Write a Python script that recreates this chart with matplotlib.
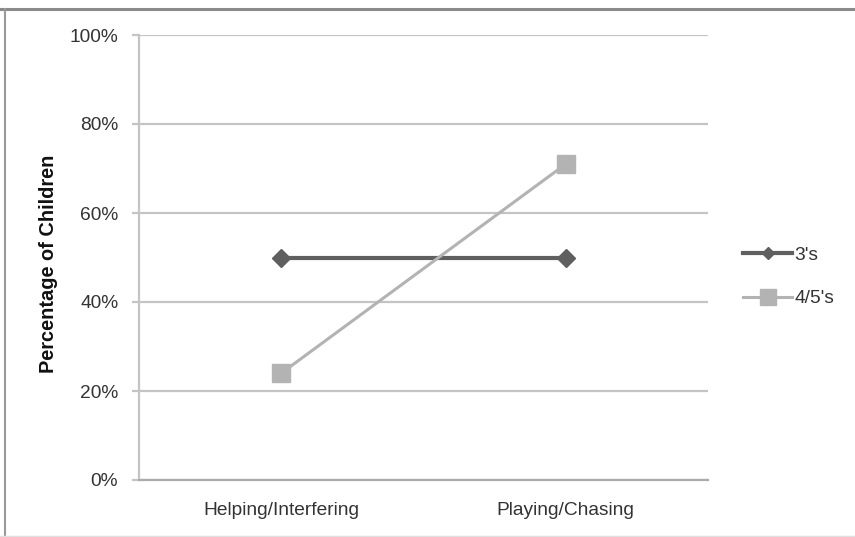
import matplotlib
matplotlib.use("Agg")
import matplotlib.pyplot as plt
from matplotlib.lines import Line2D
from matplotlib.ticker import FuncFormatter

# Share of children per play category, by age group
categories = ["Helping/Interfering", "Playing/Chasing"]
threes = [0.50, 0.50]
four_fives = [0.24, 0.71]
series_names = ["3's", "4/5's"]
y_ticks = [0.0, 0.2, 0.4, 0.6, 0.8, 1.0]

plt.rcParams["font.family"] = ["Liberation Sans", "DejaVu Sans"]

dark = "#5f5f5f"
light = "#b3b3b3"
grid = "#c4c4c4"
text = "#333333"

fig = plt.figure(figsize=(8.55, 5.37), dpi=100)
ax = fig.add_axes([139 / 855, 1 - 480 / 537, (708 - 139) / 855, (480 - 35) / 537])

x = range(len(categories))
ax.plot(x, threes, color=dark, lw=3.0, marker="D", ms=9.2, mec=dark, mfc=dark,
        zorder=3, solid_capstyle="butt")
ax.plot(x, four_fives, color=light, lw=2.2, marker="s", ms=13.5, mec=light, mfc=light,
        zorder=4, solid_capstyle="butt")

ax.set_xlim(-0.5, len(categories) - 0.5)
ax.set_ylim(0, 1)
ax.set_yticks(y_ticks)
ax.yaxis.set_major_formatter(FuncFormatter(lambda v, _: f"{v * 100:.0f}%"))
ax.set_xticks(list(x))
ax.set_xticklabels(categories)

ax.grid(axis="y", color=grid, lw=1.6)
ax.set_axisbelow(True)
for side in ("top", "right"):
    ax.spines[side].set_visible(False)
ax.spines["left"].set_color(grid)
ax.spines["left"].set_linewidth(1.6)
ax.spines["bottom"].set_color("#aaaaaa")
ax.spines["bottom"].set_linewidth(1.6)

ax.tick_params(axis="y", length=5, width=1.6, color=grid, pad=10,
               labelsize=13.8, labelcolor=text)
ax.tick_params(axis="x", length=0, pad=16, labelsize=13.8, labelcolor=text)

fig.text(48 / 855, 1 - 264 / 537, "Percentage of Children", rotation=90,
         ha="center", va="center", fontsize=14.4, fontweight="bold", color="#111111")

handles = [
    Line2D([], [], color=dark, lw=3.0, marker="D", ms=6, mec=dark, mfc=dark),
    Line2D([], [], color=light, lw=2.2, marker="s", ms=11, mec=light, mfc=light),
]
fig.legend(handles, series_names, loc="center left",
           bbox_to_anchor=(733 / 855, 1 - 277 / 537), frameon=False,
           fontsize=13.8, handlelength=2.6, handletextpad=0.1, labelspacing=1.36,
           labelcolor=text, borderpad=0)

# outer frame around the chart
fig.add_artist(Line2D([0, 1], [1 - 8.5 / 537] * 2, color="#8a8a8a", lw=2.2,
                      transform=fig.transFigure))
fig.add_artist(Line2D([5 / 855] * 2, [0, 1 - 8.5 / 537], color="#9a9a9a", lw=1.5,
                      transform=fig.transFigure))
fig.add_artist(Line2D([0, 1], [1 - 535.5 / 537] * 2, color="#e0e0e0", lw=1.0,
                      transform=fig.transFigure))

fig.savefig("out.png", dpi=100)
